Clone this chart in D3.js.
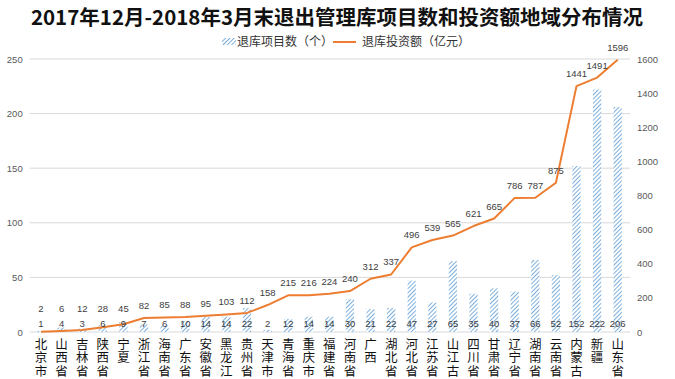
<!DOCTYPE html>
<html><head><meta charset="utf-8">
<script src="https://cdn.jsdelivr.net/npm/d3@7"></script>
<style>
body{margin:0;background:#fff;}
svg{display:block;font-family:"Noto Sans CJK SC","Noto Sans",sans-serif;}
</style></head>
<body>
<svg id="chart" width="675" height="379"></svg>
<script>
const categories = ["北京市","山西省","吉林省","陕西省","宁夏","浙江省","海南省","广东省","安徽省","黑龙江","贵州省","天津市","青海省","重庆市","福建省","河南省","广西","湖北省","河北省","江苏省","山江古","四川省","甘肃省","辽宁省","湖南省","云南省","内蒙古","新疆","山东省"];
const projectCounts = [1,4,3,6,9,7,6,10,14,14,22,2,12,14,14,30,21,22,47,27,65,35,40,37,66,52,152,222,206];
const investAmounts = [2,6,12,28,45,82,85,88,95,103,112,158,215,216,224,240,312,337,496,539,565,621,665,786,787,875,1441,1491,1596];
const leftTicks = [0,50,100,150,200,250];
const rightTicks = [0,200,400,600,800,1000,1200,1400,1600];
const title = "2017年12月-2018年3月末退出管理库项目数和投资额地域分布情况";
const seriesNames = ["退库项目数（个）","退库投资额（亿元）"];

(function(){
const svg = d3.select("#chart");
const blue = "#5B9BD5", orange = "#ED7D31";

const defs = svg.append("defs");
const pat = defs.append("pattern").attr("id","hatch").attr("patternUnits","userSpaceOnUse")
  .attr("width",3).attr("height",3).attr("patternTransform","rotate(45)");
pat.append("rect").attr("width",3).attr("height",3).attr("fill","#fff");
pat.append("line").attr("x1",0).attr("y1",0).attr("x2",0).attr("y2",3)
  .attr("stroke",blue).attr("stroke-width",1.6);

const pL = 30.7, pR = 628, pT = 59, pB = 332;
const x = d3.scaleBand().domain(categories).range([pL,pR]).paddingInner(0.6).paddingOuter(0.3);
const xc = d => x(d) + x.bandwidth()/2;
const yL = d3.scaleLinear().domain([0,250]).range([pB,pT]);
const yR = d3.scaleLinear().domain([0,1600]).range([pB,pT]);

svg.append("text").attr("x",337).attr("y",25).attr("text-anchor","middle")
  .attr("font-size",20.5).attr("font-weight","bold").attr("fill","#111").text(title);

svg.append("g").selectAll("line").data(leftTicks).join("line")
  .attr("x1",pL-1).attr("x2",pR+2).attr("y1",d=>yL(d)).attr("y2",d=>yL(d))
  .attr("stroke","#d9d9d9").attr("stroke-width",1);

const axL = d3.axisLeft(yL).tickValues(leftTicks).tickSize(0).tickPadding(0).tickFormat(d3.format("d"));
const gL = svg.append("g").attr("transform",`translate(${pL-8},0)`).call(axL);
gL.select(".domain").remove();
gL.selectAll("text").attr("font-size",9.5).attr("fill","#595959").attr("font-family","Liberation Sans, sans-serif");

const axR = d3.axisRight(yR).tickValues(rightTicks).tickSize(0).tickPadding(0).tickFormat(d3.format("d"));
const gR = svg.append("g").attr("transform",`translate(637,0)`).call(axR);
gR.select(".domain").remove();
gR.selectAll("text").attr("font-size",9.5).attr("fill","#595959").attr("font-family","Liberation Sans, sans-serif");

svg.append("g").selectAll("rect").data(projectCounts).join("rect")
  .attr("x",(d,i)=>x(categories[i])).attr("width",x.bandwidth())
  .attr("y",d=>yL(d)).attr("height",d=>pB-yL(d))
  .attr("fill","url(#hatch)");

const line = d3.line().x((d,i)=>xc(categories[i])).y(d=>yR(d));
svg.append("path").datum(investAmounts).attr("d",line)
  .attr("fill","none").attr("stroke",orange).attr("stroke-width",2).attr("stroke-linejoin","round");

svg.append("g").selectAll("text").data(projectCounts).join("text")
  .attr("x",(d,i)=>xc(categories[i])).attr("y",327).attr("text-anchor","middle")
  .attr("font-size",9.5).attr("fill","#404040").attr("font-family","Liberation Sans, sans-serif")
  .text(d=>d);

svg.append("g").selectAll("text").data(investAmounts).join("text")
  .attr("x",(d,i)=>xc(categories[i])).attr("y",d=>Math.min(yR(d)-9, 312)).attr("text-anchor","middle")
  .attr("font-size",9.5).attr("fill","#404040").attr("font-family","Liberation Sans, sans-serif")
  .text(d=>d);

svg.append("g").selectAll("text").data(categories).join("text")
  .attr("x",d=>xc(d)).attr("y",337.5)
  .attr("writing-mode","vertical-rl").attr("text-anchor","start")
  .attr("letter-spacing",1).attr("font-size",12.5).attr("fill","#111")
  .text(d=>d);

const lg = svg.append("g");
lg.append("rect").attr("x",222).attr("y",38).attr("width",14).attr("height",7).attr("fill","url(#hatch)");
lg.append("text").attr("x",237).attr("y",46).attr("font-size",12).attr("fill","#333").text(seriesNames[0]);
lg.append("line").attr("x1",333).attr("x2",356).attr("y1",42).attr("y2",42).attr("stroke",orange).attr("stroke-width",2);
lg.append("text").attr("x",362).attr("y",46).attr("font-size",12).attr("fill","#333").text(seriesNames[1]);
})();
</script>
</body></html>
